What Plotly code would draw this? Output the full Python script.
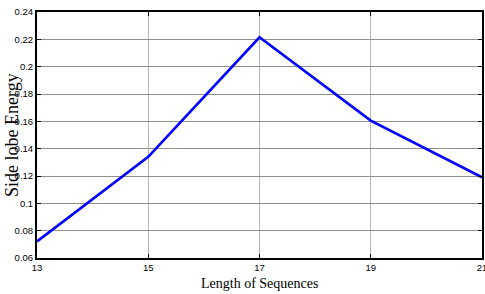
import plotly.graph_objects as go

lengths = [13, 15, 17, 19, 21]
energy = [0.0722, 0.134, 0.2215, 0.1605, 0.119]
x_ticks = [13, 15, 17, 19, 21]
y_ticks = [0.06, 0.08, 0.1, 0.12, 0.14, 0.16, 0.18, 0.2, 0.22, 0.24]
y_labels = ["0.06", "0.08", "0.1", "0.12", "0.14", "0.16", "0.18", "0.2", "0.22", "0.24"]
x_title = "Length of Sequences"
y_title = "Side lobe Energy"

fig = go.Figure()
fig.add_trace(go.Scatter(x=lengths, y=energy, mode="lines",
                         line=dict(color="#0000ff", width=2.7), cliponaxis=False))

tickfont = dict(family="Liberation Sans Narrow, Arial Narrow, Liberation Sans", size=9.5, color="black")
titlefont = dict(family="Liberation Serif, Times New Roman", color="black")
fig.update_layout(
    width=485, height=294,
    margin=dict(l=37, r=3, t=12, b=36, autoexpand=False),
    paper_bgcolor="white", plot_bgcolor="white",
    showlegend=False,
    xaxis=dict(range=[13, 21], tickvals=x_ticks, ticktext=[str(v) for v in x_ticks],
               automargin=False, ticklabeloverflow="allow",
               showgrid=True, gridcolor="#b5b5b5", gridwidth=1,
               showline=True, linecolor="black", linewidth=2, mirror="ticks",
               ticks="inside", ticklen=4, tickcolor="black",
               tickfont=tickfont, zeroline=False),
    yaxis=dict(range=[0.06, 0.24], tickvals=y_ticks, ticktext=y_labels,
               automargin=False, ticklabeloverflow="allow",
               showgrid=True, gridcolor="#8f8f8f", gridwidth=1,
               showline=True, linecolor="black", linewidth=2, mirror="ticks",
               ticks="inside", ticklen=4, tickcolor="black",
               tickfont=tickfont, zeroline=False),
    annotations=[
        dict(text=x_title, xref="paper", yref="paper", x=0.5, y=0,
             xanchor="center", yanchor="top", yshift=-17, showarrow=False,
             borderpad=0, font=dict(size=14, **titlefont)),
        dict(text=y_title, xref="paper", yref="paper", x=0, y=0.5,
             xanchor="center", yanchor="middle", xshift=-25, textangle=-90,
             showarrow=False, borderpad=0, font=dict(size=18, **titlefont)),
    ],
)
fig.write_html("out.html", config={"displayModeBar": False},
               post_script="document.body.style.margin='0';document.body.style.overflow='hidden';")
